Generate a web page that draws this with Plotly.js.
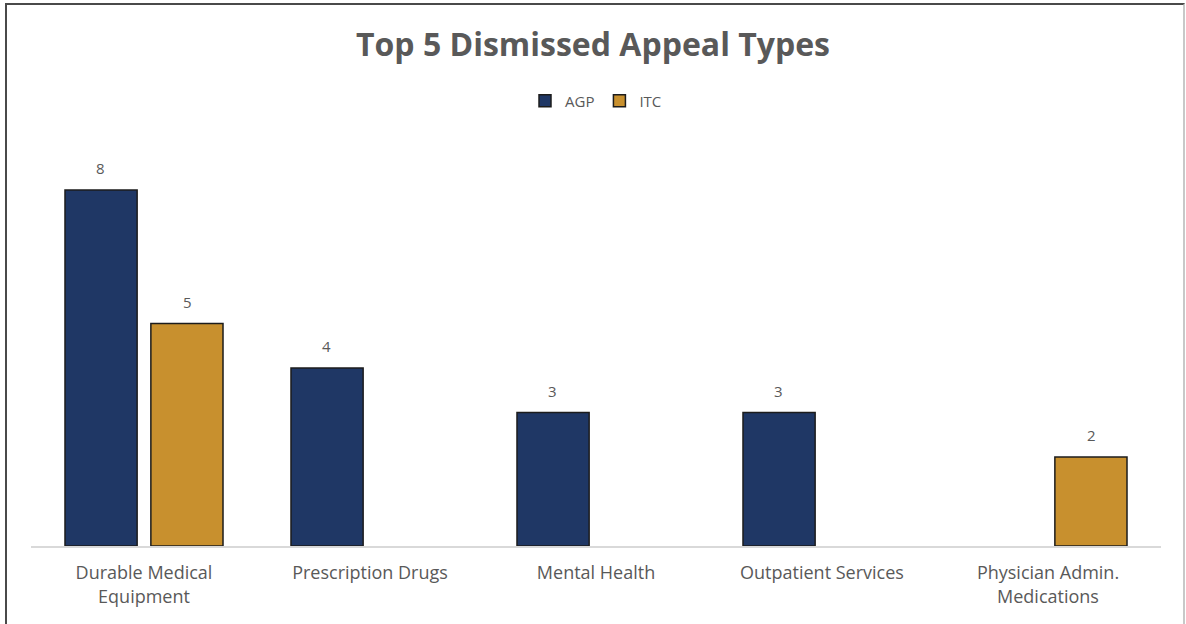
<!DOCTYPE html>
<html>
<head>
<meta charset="utf-8">
<script src="https://cdn.plot.ly/plotly-3.0.1.min.js"></script>
<style>
  html, body { margin: 0; padding: 0; background: #fff; }
  #wrap { position: relative; width: 1186px; height: 624px; }
  #chart { width: 1186px; height: 624px; }
  #frame { position: absolute; left: 5px; top: 3px; width: 1176px; height: 640px;
           border-left: 2px solid #4a4a4a; border-top: 2px solid #4a4a4a; border-right: 2px solid #c8c8c8;
           pointer-events: none; }
</style>
</head>
<body>
<div id="wrap">
  <div id="chart"></div>
  <div id="frame"></div>
</div>
<script>
const categories = ["Durable Medical<br>Equipment", "Prescription Drugs", "Mental Health", "Outpatient Services", "Physician Admin.<br>Medications"];
const agpValues = [8, 4, 3, 3, null];
const itcValues = [5, null, null, null, 2];
const seriesNames = ["AGP", "ITC"];

const navy = "#1f3765";
const gold = "#c8902e";
const outline = "#1c1c1c";
const grey = "#595959";
const fontFam = "'Open Sans', Lato, sans-serif";

const traces = [
  { type: "bar", name: seriesNames[0], x: categories, y: agpValues,
    marker: { color: navy, line: { color: outline, width: 1.5 } }, hoverinfo: "skip" },
  { type: "bar", name: seriesNames[1], x: categories, y: itcValues,
    marker: { color: gold, line: { color: outline, width: 1.5 } }, hoverinfo: "skip" }
];

// value labels above bars
const offs = [-0.1925, 0.1925];
const annotations = [];
[agpValues, itcValues].forEach((vals, s) => {
  vals.forEach((v, i) => {
    if (v === null) return;
    annotations.push({ x: i + offs[s], y: v, xref: "x", yref: "y", text: String(v),
      showarrow: false, yanchor: "bottom", yshift: 10,
      font: { family: fontFam, size: 15, color: grey } });
  });
});

const layout = {
  width: 1186, height: 624,
  paper_bgcolor: "#ffffff", plot_bgcolor: "#ffffff",
  margin: { l: 31, r: 25, t: 150, b: 78 },
  title: { text: "<b>Top 5 Dismissed Appeal Types</b>", x: 0.5, xanchor: "center",
           y: 0.928, yanchor: "middle", yref: "container",
           font: { family: fontFam, size: 32, color: grey } },
  showlegend: true,
  legend: { orientation: "h", x: 0.5, xanchor: "center", y: 1.124, yanchor: "middle",
            font: { family: fontFam, size: 15, color: grey }, itemwidth: 30, tracegroupgap: 0 },
  barmode: "group", bargap: 0.24, bargroupgap: 0.16,
  xaxis: { type: "category", showline: true, linecolor: "#d9d9d9", linewidth: 1.5,
           ticks: "", ticklabelstandoff: 10, showgrid: false,
           tickfont: { family: fontFam, size: 18, color: grey } },
  yaxis: { range: [0, 8.9], showticklabels: false, showgrid: false, zeroline: false, ticks: "" },
  annotations: annotations
};

Plotly.newPlot("chart", traces, layout, { displayModeBar: false, staticPlot: true });
</script>
</body>
</html>
